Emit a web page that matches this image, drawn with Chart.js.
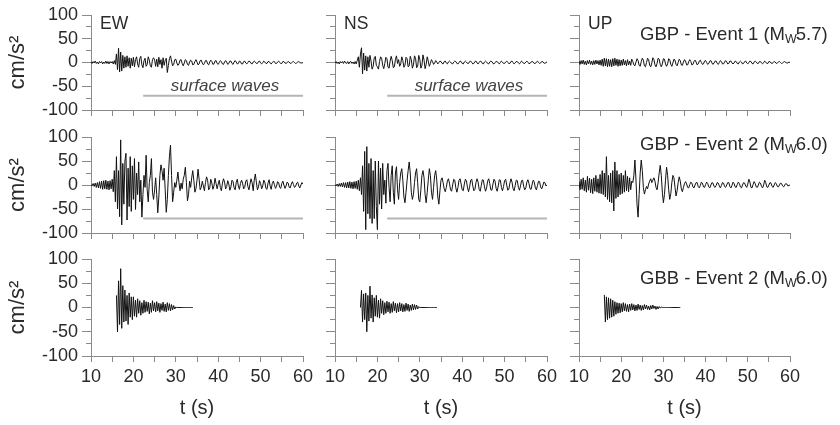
<!DOCTYPE html>
<html>
<head>
<meta charset="utf-8">
<script src="https://cdn.jsdelivr.net/npm/chart.js@4/dist/chart.umd.min.js"></script>
<style>
  html, body { margin: 0; padding: 0; background: #fff; }
  #wrap { position: relative; width: 840px; height: 425px; }
  #wrap canvas { position: absolute; left: 0; top: 0; }
</style>
</head>
<body>
<div id="wrap"></div>
<script>
// ---- labels and ticks ----
const components = ['EW', 'NS', 'UP'];
const stations = ['GBP', 'GBP', 'GBB'];
const events = ['Event 1', 'Event 2', 'Event 2'];
const magnitudes = ['5.7', '6.0', '6.0'];
const timeTicks = [10, 20, 30, 40, 50, 60];
const accelTicks = [-100, -50, 0, 50, 100];

// sampling of the traces (s): row 1 and 2 start at 10 s, row 3 at 16 s
const sampleStep = 0.25;
const traceStart = [10, 10, 16];

// "surface waves" marker
const surfaceWaveSpan = [22.3, 60];
const surfaceWaveLevel = -70;

// ---- accelerograms (cm/s^2), one line = 5 s ----
const ewEv1 = [
  1,-2,2,-1, 3,-2,1,-3, 2,-1,2,-3, 1,-2,3,-2, 2,-3,2,-1,
  2,-3,4,-4, 18,-15,30,-20, 22,-18,15,-12, 12,-10,14,-8, 10,-12,9,-7,
  11,-9,6,12, -3,-10,8,13, -5,-11,4,9, -8,-4,12,5, -7,-10,6,10,
  5,-8,7,-9, 11,-4,6,-12, 10,-6,4,9, -21,-6,8,14, 3,-7,-4,6,
  7,-1,-6,-3, 5,6,-2,-7, -1,6,4,-4, -6,1,5,3, -5,-4,2,6,
  1,-5,-3,4, 5,-1,-5,-2, 4,4,-3,-5, 1,5,2,-4, -3,3,4,-2,
  -4,0,4,2, -3,-4,1,4, 1,-4,-2,3, 3,-2,-4,1, 4,1,-3,-2,
  3,2,-3,-3, 2,3,-1,-3, 0,3,2,-2, -3,1,3,1, -2,-2,2,3,
  -1,-3,0,3, 1,-2,-2,2, 2,-1,-3,0, 2,2,-2,-2, 1,3,0,-2,
  -2,2,2,-1, -2,0,2,1, -2,-1,1,2, 0,-2,-1,1, 2,0,-1,-1,
  0
];
const nsEv1 = [
  -1,2,-2,1, -3,2,-1,2, -2,3,-1,-2, 2,-3,1,2, -2,1,-3,2,
  -3,4,12,-10, 18,31,-24,20, -16,14,-18,12, -10,15,3,-14, -8,10,13,-6,
  -9,-14,2,12, 9,-6,-13,-2, 11,8,-10,-12, 3,13,4,-11, -9,6,14,-2,
  6,-8,-3,12, 4,-10,-6,11, 8,-9,-7,13, 6,-12,-5,14, 9,-11,-8,15,
  7,-12,-6,16, 5,-13,-4,12, 3,-8,-2,6, 2,-4,-1,4, 1,-3,0,3,
  2,-2,-3,2, 3,-1,-3,1, 3,1,-2,-3, 1,3,2,-2, -3,0,3,2,
  -2,-3,1,3, 1,-2,-2,2, 3,0,-3,-2, 2,3,-1,-3, 0,3,2,-2,
  -3,1,3,1, -2,-3,1,3, 2,-2,-3,0, 2,2,-1,-3, 0,3,1,-2,
  -2,1,3,0, -2,-2,2,3, 0,-3,-1,2, 2,-1,-3,0, 3,1,-2,-2,
  1,3,0,-2, -2,1,2,1, -2,-2,1,3, 0,-2,-1,2, 2,-1,-2,0,
  1
];
const upEv1 = [
  3,-4,4,-3, 5,-4,3,-5, 4,-3,5,-4, 3,-5,4,-4, 5,-3,4,-5,
  5,-6,7,-8, 9,-7,8,-9, 7,-8,6,-9, 8,-7,9,-6, 7,-8,6,-7,
  5,-6,7,-5, 4,-7,6,-5, 3,-6,7,2, -5,-7,1,8, 4,-6,-8,2,
  9,5,-7,-9, 0,9,6,-6, -9,-1,10,6, -5,-9,-2,9, 7,-4,-9,-3,
  8,7,-3,-8, -3,8,6,-4, -8,-1,7,5, -4,-7,0,7, 4,-5,-6,1,
  6,3,-5,-5, 2,6,2,-5, -4,2,5,1, -5,-3,3,5, 0,-4,-3,3,
  4,0,-4,-2, 3,4,-1,-4, -1,3,3,-2, -4,0,4,2, -3,-3,1,4,
  1,-3,-2,3, 3,-1,-3,-1, 3,2,-2,-3, 1,3,1,-3, -2,2,3,-1,
  -3,0,3,2, -2,-3,1,3, 1,-2,-2,2, 2,-1,-3,0, 3,1,-2,-2,
  2,2,-1,-2, 0,2,1,-2, -1,1,2,0, -2,-1,1,2, 0,-1,-1,1,
  0
];
const ewEv2 = [
  1,-2,3,-3, 4,-5,5,-6, 7,-7,8,-9, 9,-8,10,-9, 8,-10,9,-8,
  12,-14,30,-35, 59,-50,30,-66, 94,-83,45,-40, 50,66,-73,35, -45,59,-55,40,
  -30,55,-51,25, -20,48,-35,10, -67,-20,20,-5, 62,-10,-35,5, 20,55,-15,-30,
  -10,15,-20,-58, -25,20,42,30, 10,35,-10,-57, -30,20,60,83, 20,-35,-15,5,
  -5,10,27,5, -12,4,-8,12, 20,37,5,-33, -20,8,-5,15, 30,10,-15,-8,
  10,33,12,-10, -5,8,-2,-12, 5,17,10,-10, -6,12,4,-9, -2,14,3,-8,
  2,10,-5,-12, 4,13,6,-8, -3,9,2,-11, -4,10,7,-6, -10,5,12,-2,
  -9,3,10,4, -8,-5,8,11, -3,-10,2,13, 5,-12,10,23, 6,-10,-4,9,
  3,-8,-2,10, 6,-7,-9,4, 11,-2,-9,3, 8,1,-7,-3, 7,5,-5,-7,
  3,8,0,-7, -2,6,4,-5, -6,2,7,1, -5,-3,4,6, -2,-6,0,5,
  2
];
const nsEv2 = [
  1,-2,2,-3, 3,-3,4,-4, 5,-5,5,-6, 6,-6,7,-7, 6,-8,7,-7,
  8,-9,10,-12, 15,-20,40,-55, 70,-93,80,-60, 45,-70,55,-80, 30,-70,50,-45,
  -93,50,-40,35, -50,45,-20,10, -38,30,45,-5, -35,20,40,-15, -40,25,38,-10,
  -30,5,25,34, 10,-25,-37,-15, 10,30,48,25, -15,-30,-20,5, 25,34,5,-30,
  -35,-10,20,30, 15,-20,-37,-15, 10,34,20,-15, -30,-5,20,30, 10,-25,-40,-12,
  10,15,5,-8, -14,-5,8,13, 4,-10,-13,0, 12,10,-6,-15, -5,10,13,2,
  -10,-12,2,12, 9,-6,-14,-4, 10,12,-2,-12, -9,5,13,6, -9,-13,-1,11,
  10,-4,-13,-6, 8,13,3,-10, -11,2,12,8, -7,-13,-2,11, 10,-5,-12,-3,
  9,12,0,-11, -9,4,13,6, -8,-12,-1,10, 9,-5,-11,-2, 9,10,-3,-10,
  -6,6,11,3, -8,-9,2,10, 6,-6,-10,-1, 8,7,-4,-8, -2,6,5,-2,
  0
];
const upEv2 = [
  8,-10,12,-9, 15,-12,10,-15, 18,-11,14,-16, 12,-18,15,-13, 20,-15,13,-17,
  22,-18,30,-20, 25,-25,59,-30, 20,-35,25,-37, 30,-54,48,-28, 30,-25,22,-20,
  25,-18,20,-15, 30,-12,18,-14, 15,-10,8,5, 20,52,10,-40, -67,-20,25,52,
  30,-5,-19,-10, -3,-8,2,8, 13,5,10,15, 8,-5,-10,5, 25,41,20,-15,
  -37,-20,10,37, 20,-10,-30,-18, 5,20,15,-5, -23,-12,5,17, 8,-8,-14,-5,
  3,7,2,-5, -6,1,6,4, -4,-6,0,5, 5,-3,-6,-1, 6,4,-4,-5,
  1,6,3,-4, -6,0,5,4, -3,-5,-1,5, 4,-2,-6,-1, 5,4,-3,-5,
  0,5,5,-3, -6,-1,6,3, -4,-5,1,6, 3,-4,-6,0, 5,4,-2,-5,
  2,12,6,-5, -6,1,7,3, -4,-5,0,6, 4,-3,-6,0, 10,5,-4,-5,
  0,5,4,-3, -5,0,5,3, -3,-4,0,4, 3,-2,-4,0, 3,2,-2,-1,
  0
];
const ewGbb = [
  25,-50,55,-35, 80,-43,45,-30, 36,-28,25,-35, 30,-20,22,-25,
  22,-18,15,-20, 18,-12,14,-16, 10,-12,15,-10, 12,-8,11,-13, 9,-10,14,-7,
  10,-9,12,-7, 9,-10,8,-6, 11,-8,7,-9, 10,-6,8,-7, 6,-5,4,-3,
  1,0,0,0, 0,0,0,0, 0,0,0,0, 0,0,0,0, 0
];
const nsGbb = [
  0,35,-30,28, -25,30,-50,25, -28,44,-22,26, -30,20,-18,25,
  -20,15,-22,18, -12,14,-15,10, -12,13,-9,11, -12,8,-10,12, -7,9,-11,8,
  -9,10,-7,8, -9,6,-8,9, -6,7,-8,5, -6,7,-5,6, -4,5,-3,2,
  0,0,0,0, 0,0,0,0, 0,0,0,0, 0,0,0,0, 0
];
const upGbb = [
  26,-30,22,-25, 20,-22,18,-20, 15,-18,12,-14, 10,-12,9,-11,
  8,-9,10,-7, 8,-8,6,-9, 7,-6,8,-5, 6,-7,5,-6, 7,-4,5,-6,
  4,-5,6,-3, 5,-4,3,-5, 4,-3,5,-2, 3,-4,2,-3, 2,-1,1,0,
  0,0,0,0, 0,0,0,0, 0,0,0,0, 0,0,0,0, 0
];

const traces = [
  [ewEv1, nsEv1, upEv1],
  [ewEv2, nsEv2, upEv2],
  [ewGbb, nsGbb, upGbb]
];

// ---- layout ----
const W = 840, H = 425;
const colLeft = [91, 335, 579];
const colRight = [303, 547, 790];
const rowTop = [15, 137, 259];
const rowBottom = [110, 233, 356];
const eventLabelDy = [20, 8, 20];
const axisColor = '#8a8a8a';
const textColor = '#2a2a2a';
const fontFamily = "'Liberation Sans', Arial, sans-serif";

Chart.defaults.font.family = fontFamily;
Chart.defaults.color = textColor;

function fixSize(prop, size) {
  return scale => {
    scale[prop] = size;
    scale.paddingLeft = scale.paddingRight = 0;
    scale.paddingTop = scale.paddingBottom = 0;
  };
}

function drawEventLabel(ctx, x, y, r) {
  const head = stations[r] + ' - ' + events[r] + ' (M';
  ctx.font = '18.5px ' + fontFamily;
  ctx.fillText(head, x, y);
  x += ctx.measureText(head).width;
  ctx.font = '12.5px ' + fontFamily;
  ctx.fillText('W', x, y + 5);
  x += ctx.measureText('W').width - 1;
  ctx.font = '18.5px ' + fontFamily;
  ctx.fillText(magnitudes[r] + ')', x, y);
}

const panelText = {
  id: 'panelText',
  afterDraw(chart, args, opts) {
    const {ctx, chartArea: a, scales: {x, y}} = chart;
    const {r, c} = opts;
    ctx.save();
    ctx.fillStyle = textColor;
    ctx.textBaseline = 'middle';
    ctx.textAlign = 'left';
    if (r === 0) {
      ctx.font = '17.5px ' + fontFamily;
      ctx.fillText(components[c], a.left + 9, a.top + 9);
      if (c < 2) {
        ctx.font = 'italic 17px ' + fontFamily;
        ctx.fillStyle = '#444';
        ctx.textAlign = 'center';
        ctx.fillText('surface waves', x.getPixelForValue(41.6), y.getPixelForValue(-50));
        ctx.textAlign = 'left';
        ctx.fillStyle = textColor;
      }
    }
    if (c === 2) drawEventLabel(ctx, a.left + 61, a.top + eventLabelDy[r], r);
    ctx.restore();
  }
};

const wrap = document.getElementById('wrap');

function makePanel(r, c) {
  const canvas = document.createElement('canvas');
  canvas.width = W;
  canvas.height = H;
  wrap.appendChild(canvas);
  const isLeft = c === 0;
  const isBottom = r === 2;
  const yW = isLeft ? 86 : 20;
  const xH = isBottom ? 64 : 10;

  const datasets = [{
    data: traces[r][c].map((v, i) => ({x: traceStart[r] + i * sampleStep, y: v})),
    borderColor: '#111',
    borderWidth: 1,
    pointRadius: 0,
    tension: 0
  }];
  if (r < 2 && c < 2) {
    datasets.push({
      data: surfaceWaveSpan.map(t => ({x: t, y: surfaceWaveLevel})),
      borderColor: '#b5b5b5',
      borderWidth: 2,
      pointRadius: 0
    });
  }

  new Chart(canvas, {
    type: 'line',
    data: {datasets},
    options: {
      responsive: false,
      animation: false,
      events: [],
      parsing: false,
      normalized: true,
      layout: {
        autoPadding: false,
        padding: {
          left: colLeft[c] - yW,
          right: W - colRight[c],
          top: rowTop[r],
          bottom: H - rowBottom[r] - xH
        }
      },
      plugins: {
        legend: {display: false},
        tooltip: {enabled: false},
        panelText: {r, c}
      },
      scales: {
        x: {
          type: 'linear',
          position: 'bottom',
          min: timeTicks[0],
          max: timeTicks[timeTicks.length - 1],
          border: {display: true, color: axisColor, width: 1},
          grid: {drawOnChartArea: false, drawTicks: true, tickLength: 6, color: axisColor},
          ticks: {
            display: isBottom,
            stepSize: 5,
            autoSkip: false,
            maxRotation: 0,
            padding: 4,
            font: {size: 18},
            callback: v => timeTicks.includes(v) ? String(v) : ''
          },
          title: {display: isBottom, text: 't (s)', font: {size: 20}, padding: 0, color: textColor},
          afterFit: fixSize('height', xH)
        },
        y: {
          type: 'linear',
          position: 'left',
          weight: 1,
          min: accelTicks[0],
          max: accelTicks[accelTicks.length - 1],
          border: {display: true, color: axisColor, width: 1},
          grid: {drawOnChartArea: false, drawTicks: true, tickLength: 9, color: axisColor},
          ticks: {
            display: isLeft,
            stepSize: 50,
            autoSkip: false,
            padding: 4,
            font: {size: 18},
            callback: v => accelTicks.includes(v) ? String(v) : ''
          },
          title: {display: isLeft, text: 'cm/s²', font: {size: 22}, padding: 0, color: textColor},
          afterFit: fixSize('width', yW)
        },
        yMinor: {
          type: 'linear',
          position: 'left',
          weight: 0,
          min: accelTicks[0],
          max: accelTicks[accelTicks.length - 1],
          border: {display: false},
          grid: {drawOnChartArea: false, drawTicks: true, tickLength: 5, color: axisColor},
          ticks: {display: false, stepSize: 25, autoSkip: false},
          afterFit: fixSize('width', 0)
        }
      }
    },
    plugins: [panelText]
  });
}

for (let r = 0; r < 3; r++) {
  for (let c = 0; c < 3; c++) makePanel(r, c);
}
</script>
</body>
</html>
